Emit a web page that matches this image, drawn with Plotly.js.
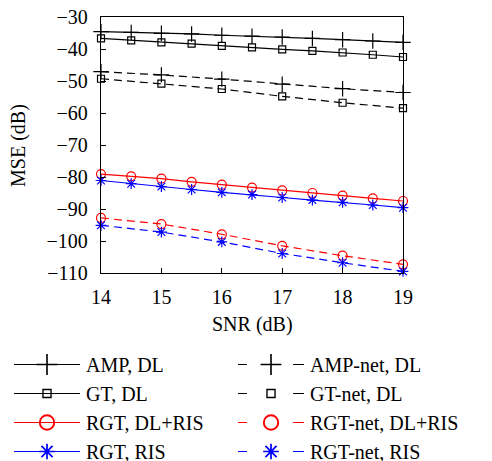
<!DOCTYPE html>
<html>
<head>
<meta charset="utf-8">
<script src="https://cdn.plot.ly/plotly-3.0.1.min.js"></script>
<style>
html,body{margin:0;padding:0;background:#fff;}
/* legend samples: long lines, bigger symbols, two dashes for the "-net" series */
#chart .legendlines path { d: path("M4,0h66"); }
#chart .legendlines path[style*="dasharray: 8px"] { d: path("M4,0h9M59,0h11"); stroke-dasharray: none !important; }
#chart g.traces:nth-child(1) .legendpoints path { transform: translate(37px, 0px) scale(1.35); }
#chart g.traces:nth-child(2) .legendpoints path { transform: translate(37px, 0px) scale(1.15); }
#chart g.traces:nth-child(3) .legendpoints path { transform: translate(37px, 0px) scale(1.6); }
#chart g.traces:nth-child(4) .legendpoints path { transform: translate(37px, 0px) scale(1.45); }
</style>
</head>
<body>
<div id="chart" style="width:492px;height:461px;"></div>
<script>
// SNR grids
const snrFine = [14, 14.5, 15, 15.5, 16, 16.5, 17, 17.5, 18, 18.5, 19];
const snrCoarse = [14, 15, 16, 17, 18, 19];

// MSE (dB) series
const ampDL      = [-34.6, -34.8, -35.1, -35.3, -35.7, -36.0, -36.25, -36.7, -37.1, -37.5, -37.9];
const gtDL       = [-36.7, -37.3, -37.9, -38.3, -39.0, -39.5, -40.1, -40.6, -41.1, -41.8, -42.5];
const rgtDLRIS   = [-79.1, -79.8, -80.5, -81.5, -82.4, -83.3, -84.2, -85.0, -85.8, -86.7, -87.5];
const rgtRIS     = [-81.1, -82.1, -83.0, -83.9, -84.8, -85.5, -86.4, -87.2, -87.9, -88.75, -89.6];
const ampNetDL   = [-47.1, -48.1, -49.4, -51.0, -52.4, -53.6];
const gtNetDL    = [-49.3, -50.8, -52.5, -54.8, -56.8, -58.5];
const rgtNetDLRIS= [-92.8, -94.7, -97.9, -101.5, -104.6, -107.3];
const rgtNetRIS  = [-95.1, -97.2, -100.3, -103.9, -106.8, -109.5];

const xTicks = [14, 15, 16, 17, 18, 19];
const yTicks = [-30, -40, -50, -60, -70, -80, -90, -100, -110];
const yTickText = yTicks.map(v => v < 0 ? '\u2212' + Math.abs(v) : String(v));
const xTitle = 'SNR (dB)';
const yTitle = 'MSE (dB)';

const FONT = 'Liberation Serif, Times New Roman, serif';
const DASH = '8px,5px';

function tr(name, x, y, color, symbol, size, dash, legendId) {
  return {
    type: 'scatter', mode: 'lines+markers', name: name, x: x, y: y,
    cliponaxis: false, legend: legendId,
    line: {color: color, width: 1.2, dash: dash || 'solid'},
    marker: {symbol: symbol, size: size, color: color, line: {color: color, width: 1.2}}
  };
}

const data = [
  tr('AMP, DL', snrFine, ampDL, '#000', 'cross-thin-open', 11, null, 'legend'),
  tr('GT, DL', snrFine, gtDL, '#000', 'square-open', 7, null, 'legend'),
  tr('RGT, DL+RIS', snrFine, rgtDLRIS, '#ff0000', 'circle-open', 9, null, 'legend'),
  tr('RGT, RIS', snrFine, rgtRIS, '#0000ff', 'asterisk-open', 9, null, 'legend'),
  tr('AMP-net, DL', snrCoarse, ampNetDL, '#000', 'cross-thin-open', 11, DASH, 'legend2'),
  tr('GT-net, DL', snrCoarse, gtNetDL, '#000', 'square-open', 7, DASH, 'legend2'),
  tr('RGT-net, DL+RIS', snrCoarse, rgtNetDLRIS, '#ff0000', 'circle-open', 9, DASH, 'legend2'),
  tr('RGT-net, RIS', snrCoarse, rgtNetRIS, '#0000ff', 'asterisk-open', 9, DASH, 'legend2')
];

const legendBase = {
  orientation: 'v', xref: 'container', yref: 'container',
  xanchor: 'left', yanchor: 'top', y: 1 - 345 / 461,
  itemwidth: 66, tracegroupgap: 0,
  font: {family: FONT, size: 20}, bgcolor: 'rgba(0,0,0,0)', borderwidth: 0,
  itemclick: false, itemdoubleclick: false, traceorder: 'normal'
};

const layout = {
  width: 492, height: 461,
  margin: {l: 101, r: 89, t: 17, b: 188, autoexpand: false},
  paper_bgcolor: '#fff', plot_bgcolor: '#fff',
  font: {family: FONT, size: 20, color: '#000'},
  showlegend: true,
  xaxis: {
    range: [14, 19], tickvals: xTicks, ticktext: xTicks.map(String),
    ticks: 'inside', ticklen: 5, tickwidth: 1, tickcolor: '#000',
    showline: true, linecolor: '#000', linewidth: 1.3, mirror: true,
    showgrid: false, zeroline: false,
    ticklabelstandoff: 6
  },
  yaxis: {
    range: [-110, -30], tickvals: yTicks, ticktext: yTickText,
    ticks: 'inside', ticklen: 5, tickwidth: 1, tickcolor: '#000',
    showline: true, linecolor: '#000', linewidth: 1.3, mirror: true,
    showgrid: false, zeroline: false,
    ticklabelstandoff: 8
  },
  annotations: [
    {text: xTitle, xref: 'paper', yref: 'paper', x: 0.5, y: -0.203, xanchor: 'center', yanchor: 'middle',
     showarrow: false, font: {family: FONT, size: 20, color: '#000'}},
    {text: yTitle, xref: 'paper', yref: 'paper', x: -0.275, y: 0.5, xanchor: 'center', yanchor: 'middle',
     textangle: -90, showarrow: false, font: {family: FONT, size: 20, color: '#000'}}
  ],
  legend: Object.assign({}, legendBase, {x: 10 / 492}),
  legend2: Object.assign({}, legendBase, {x: 234 / 492})
};

Plotly.newPlot('chart', data, layout, {displayModeBar: false, staticPlot: true});
</script>
</body>
</html>
